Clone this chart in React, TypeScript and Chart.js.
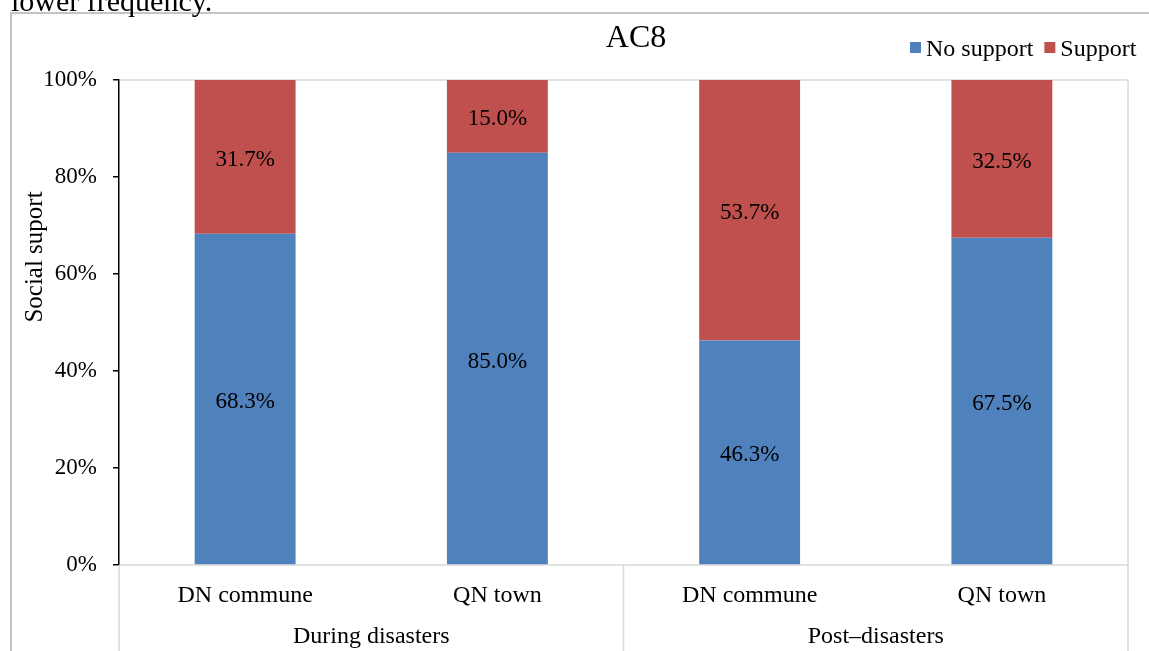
import { useEffect, useRef } from "react";
import { Chart, registerables } from "chart.js";

Chart.register(...registerables);

// Chart data
const categories = ["DN commune", "QN town", "DN commune", "QN town"];
const groups = ["During disasters", "Post–disasters"];
const noSupport = [68.3, 85.0, 46.3, 67.5];
const support = [31.7, 15.0, 53.7, 32.5];
const seriesNames = ["No support", "Support"];
const seriesColors = ["#4F81BD", "#C0504D"];
const yTickStep = 20;
const chartTitle = "AC8";
const yTitle = "Social suport";
const leadText = "lower frequency.";

const SERIF = "'Liberation Serif', 'Times New Roman', Times, serif";
const GRID_GRAY = "#D9D9D9";

const decorations = {
  id: "decorations",
  beforeDatasetsDraw(chart: any) {
    const { ctx, chartArea } = chart;
    const { left, right, top, bottom } = chartArea;
    const xs = chart.scales.x;
    ctx.save();
    ctx.strokeStyle = GRID_GRAY;
    ctx.lineWidth = 1.5;
    // plot frame (top, right, bottom)
    ctx.beginPath();
    ctx.moveTo(left + 1, top);
    ctx.lineTo(right, top);
    ctx.lineTo(right, bottom);
    ctx.lineTo(left + 1, bottom);
    ctx.stroke();
    // group separators beneath the axis
    const mid = (xs.getPixelForValue(1) + xs.getPixelForValue(2)) / 2;
    ctx.beginPath();
    [left, mid, right].forEach((x) => {
      ctx.moveTo(x, bottom);
      ctx.lineTo(x, chart.height);
    });
    ctx.stroke();
    ctx.restore();
  },
  afterDraw(chart: any) {
    const { ctx } = chart;
    ctx.save();
    // outer frame of the figure
    ctx.strokeStyle = "#C4C4C4";
    ctx.lineWidth = 2;
    ctx.strokeRect(11, 13, chart.width + 20, chart.height + 20);

    // running text above the figure
    ctx.fillStyle = "#000";
    ctx.font = `30px ${SERIF}`;
    ctx.textAlign = "left";
    ctx.textBaseline = "alphabetic";
    ctx.fillText(leadText, 11, 11);

    // title
    ctx.font = `32px ${SERIF}`;
    ctx.textAlign = "center";
    ctx.fillText(chartTitle, 636, 47);

    // legend
    ctx.font = `24px ${SERIF}`;
    ctx.textAlign = "left";
    let lx = 910;
    seriesNames.forEach((name, i) => {
      ctx.fillStyle = seriesColors[i];
      ctx.fillRect(lx, 42, 11, 11);
      ctx.fillStyle = "#000";
      ctx.fillText(name, lx + 16, 56);
      lx += 16 + ctx.measureText(name).width + 11;
    });

    // y-axis title
    ctx.save();
    ctx.translate(42, 257);
    ctx.rotate(-Math.PI / 2);
    ctx.font = `25px ${SERIF}`;
    ctx.textAlign = "center";
    ctx.fillText(yTitle, 0, 0);
    ctx.restore();

    // value labels centred in each segment
    ctx.font = `23px ${SERIF}`;
    ctx.textAlign = "center";
    ctx.textBaseline = "middle";
    ctx.fillStyle = "#000";
    chart.data.datasets.forEach((ds: any, di: number) => {
      const meta = chart.getDatasetMeta(di);
      meta.data.forEach((el: any, i: number) => {
        const y = (el.y + el.base) / 2 + 3;
        ctx.fillText(`${Number(ds.data[i]).toFixed(1)}%`, el.x, y);
      });
    });
    ctx.restore();
  },
};

export default function App() {
  const canvasRef = useRef<HTMLCanvasElement | null>(null);

  useEffect(() => {
    if (!canvasRef.current) return;
    const tickFont = { family: SERIF, size: 23 };
    const catFont = { family: SERIF, size: 24 };
    const chart = new Chart(canvasRef.current, {
      type: "bar",
      data: {
        labels: categories,
        datasets: [
          {
            label: seriesNames[0],
            data: noSupport,
            backgroundColor: seriesColors[0],
            barPercentage: 0.4,
            categoryPercentage: 1,
          },
          {
            label: seriesNames[1],
            data: support,
            backgroundColor: seriesColors[1],
            barPercentage: 0.4,
            categoryPercentage: 1,
          },
        ],
      },
      options: {
        responsive: false,
        animation: false,
        layout: { padding: { top: 80, right: 21, left: 0, bottom: 0 } },
        plugins: {
          legend: { display: false },
          title: { display: false },
          tooltip: { enabled: false },
        },
        scales: {
          x: {
            stacked: true,
            position: "bottom",
            weight: 0,
            grid: { display: false, drawTicks: false },
            border: { display: false },
            ticks: { font: catFont, color: "#000", padding: 16, maxRotation: 0, autoSkip: false },
            afterFit: (s: any) => {
              s.height = 45;
            },
          },
          x2: {
            type: "category",
            labels: groups,
            position: "bottom",
            weight: 1,
            offset: true,
            grid: { display: false, drawTicks: false },
            border: { display: false },
            ticks: { font: catFont, color: "#000", padding: 12, maxRotation: 0, autoSkip: false },
            afterFit: (s: any) => {
              s.height = 41;
            },
          },
          y: {
            stacked: true,
            min: 0,
            max: 100,
            ticks: {
              stepSize: yTickStep,
              font: tickFont,
              color: "#000",
              padding: 16,
              callback: (v: any) => `${v}%`,
            },
            grid: { drawOnChartArea: false, color: "#000", tickLength: 6, lineWidth: 1.5 },
            border: { color: "#000", width: 1.5 },
            afterFit: (s: any) => {
              s.width = 119;
            },
          },
        },
      },
      plugins: [decorations],
    } as any);
    return () => chart.destroy();
  }, []);

  return (
    <div style={{ position: "fixed", left: 0, top: 0, width: 1149, height: 651, background: "#fff" }}>
      <canvas ref={canvasRef} width={1149} height={651} />
    </div>
  );
}
